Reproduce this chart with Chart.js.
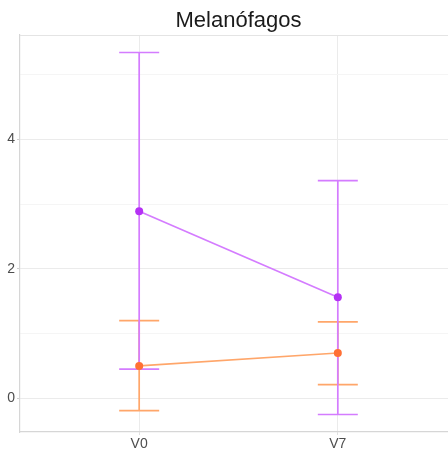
<!DOCTYPE html>
<html>
<head>
<meta charset="utf-8">
<script src="https://cdn.jsdelivr.net/npm/chart.js@4"></script>
<style>
  html, body { margin: 0; padding: 0; background: #ffffff; overflow: hidden; }
  #wrap { width: 477px; height: 457px; }
</style>
</head>
<body>
<div id="wrap"><canvas id="c" width="477" height="457"></canvas></div>
<script>
// Visits on the x axis
const categories = ['V0', 'V7'];

// Group A (violet): mean with lower / upper bounds
const groupAMean  = [2.89, 1.56];
const groupALower = [0.45, -0.25];
const groupAUpper = [5.34, 3.36];

// Group B (orange): mean with lower / upper bounds
const groupBMean  = [0.50, 0.70];
const groupBLower = [-0.19, 0.21];
const groupBUpper = [1.20, 1.18];

// Y ticks: grid every unit, labels on even values
const yTickValues = [0, 1, 2, 3, 4, 5];
const yLabelValues = [0, 2, 4];

const chartTitle = 'Melanófagos';

const toPoints = arr => arr.map((v, i) => ({ x: i, y: v }));

// Error bars with caps, drawn under the lines and points
const errorBars = {
  id: 'errorBars',
  beforeDatasetsDraw(chart) {
    const { ctx, scales: { x, y } } = chart;
    const groups = [
      { lo: groupBLower, hi: groupBUpper, color: '#ffa66a' },
      { lo: groupALower, hi: groupAUpper, color: '#d47cff' }
    ];
    ctx.save();
    ctx.lineWidth = 1.7;
    groups.forEach(g => {
      ctx.strokeStyle = g.color;
      g.lo.forEach((lo, i) => {
        const px = x.getPixelForValue(i);
        const yl = y.getPixelForValue(lo);
        const yh = y.getPixelForValue(g.hi[i]);
        ctx.beginPath();
        ctx.moveTo(px, yl); ctx.lineTo(px, yh);
        ctx.moveTo(px - 20, yl); ctx.lineTo(px + 20, yl);
        ctx.moveTo(px - 20, yh); ctx.lineTo(px + 20, yh);
        ctx.stroke();
      });
    });
    ctx.restore();
  }
};

// Panel frame and title centred over the plotting area
const frameAndTitle = {
  id: 'frameAndTitle',
  beforeDraw(chart) {
    const { ctx } = chart;
    ctx.save();
    ctx.fillStyle = '#ffffff';
    ctx.fillRect(0, 0, chart.width, chart.height);
    ctx.restore();
  },
  afterDraw(chart) {
    const { ctx, chartArea: a } = chart;
    ctx.save();
    ctx.strokeStyle = '#e4e4e4';
    ctx.lineWidth = 1;
    ctx.beginPath();
    ctx.moveTo(a.left, a.top + 0.5);
    ctx.lineTo(a.right, a.top + 0.5);
    ctx.stroke();
    ctx.fillStyle = '#1a1a1a';
    ctx.font = '22px "Liberation Sans", Arial, sans-serif';
    ctx.textAlign = 'center';
    ctx.textBaseline = 'alphabetic';
    ctx.fillText(chartTitle, (a.left + a.right) / 2, 27);
    ctx.restore();
  }
};

new Chart(document.getElementById('c'), {
  type: 'scatter',
  data: {
    datasets: [
      {
        label: 'B',
        data: toPoints(groupBMean),
        showLine: true,
        borderColor: '#ffa66a',
        borderWidth: 1.7,
        pointBackgroundColor: '#ff7035',
        pointBorderColor: '#ff7035',
        pointRadius: 4,
        pointBorderWidth: 0
      },
      {
        label: 'A',
        data: toPoints(groupAMean),
        showLine: true,
        borderColor: '#d47cff',
        borderWidth: 1.7,
        pointBackgroundColor: '#b531f5',
        pointBorderColor: '#b531f5',
        pointRadius: 4,
        pointBorderWidth: 0
      }
    ]
  },
  options: {
    responsive: false,
    devicePixelRatio: 1,
    animation: false,
    layout: { padding: { top: 35, right: 20, left: 0, bottom: 0 } },
    plugins: {
      legend: { display: false },
      title: { display: false },
      tooltip: { enabled: false }
    },
    scales: {
      x: {
        type: 'linear',
        min: -0.6,
        max: categories.length - 1 + 0.6,
        afterBuildTicks(s) { s.ticks = categories.map((_, i) => ({ value: i })); },
        afterFit(s) { s.height = 25; },
        ticks: {
          callback: v => categories[v],
          color: '#4d4d4d',
          font: { family: '"Liberation Sans", Arial, sans-serif', size: 14 },
          padding: 1,
          maxRotation: 0
        },
        grid: { color: '#ebebeb', lineWidth: 1, tickLength: 3, tickColor: '#e0e0e0' },
        border: { display: true, color: '#d6d6d6', width: 1.2 }
      },
      y: {
        min: -0.52,
        max: 5.61,
        afterBuildTicks(s) { s.ticks = yTickValues.map(v => ({ value: v })); },
        afterFit(s) { s.width = 20; },
        ticks: {
          callback: v => (yLabelValues.includes(v) ? String(v) : ''),
          color: '#4d4d4d',
          font: { family: '"Liberation Sans", Arial, sans-serif', size: 14 },
          padding: 2
        },
        grid: {
          color: c => (yLabelValues.includes(c.tick.value) ? '#ebebeb' : '#f5f5f5'),
          lineWidth: 1,
          tickLength: 3,
          tickColor: c => (yLabelValues.includes(c.tick.value) ? '#cfcfcf' : 'rgba(0,0,0,0)')
        },
        border: { display: true, color: '#d6d6d6', width: 1.2 }
      }
    }
  },
  plugins: [frameAndTitle, errorBars]
});
</script>
</body>
</html>
